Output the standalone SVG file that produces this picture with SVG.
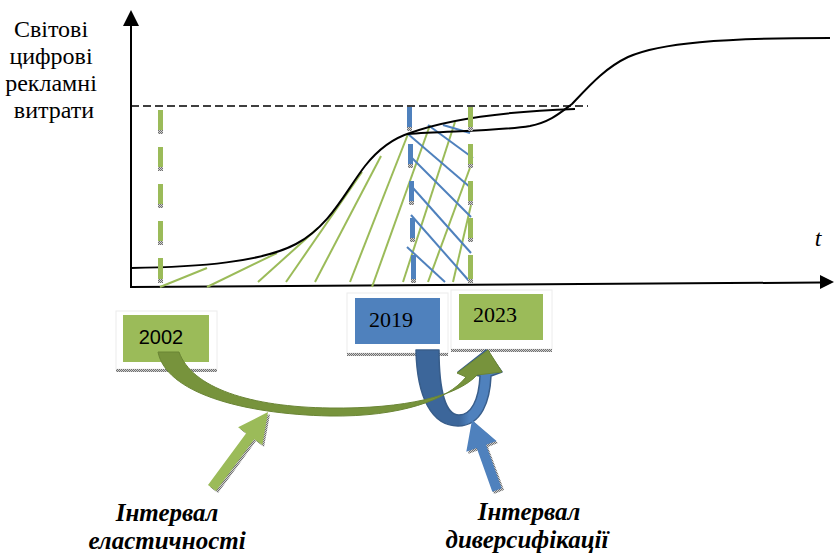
<svg xmlns="http://www.w3.org/2000/svg" width="834" height="556" viewBox="0 0 834 556">
  <defs>
    <pattern id="dots" width="2" height="2" patternUnits="userSpaceOnUse">
      <rect width="2" height="2" fill="#d0d0d0"/>
      <rect width="1" height="1" fill="#707070"/>
      <rect x="1" y="1" width="1" height="1" fill="#707070"/>
    </pattern>
    <linearGradient id="uturn" x1="416" y1="0" x2="502" y2="0" gradientUnits="userSpaceOnUse">
      <stop offset="0" stop-color="#3c669a"/>
      <stop offset="0.5" stop-color="#3c669a"/>
      <stop offset="0.62" stop-color="#4f81bd"/>
      <stop offset="1" stop-color="#4f81bd"/>
    </linearGradient>
    <style>
      .axis { stroke: #000; stroke-width: 2; fill: none; }
      .curve { stroke: #000; stroke-width: 2; fill: none; }
      .limit { stroke: #000; stroke-width: 1.6; fill: none; stroke-dasharray: 8 4; }
      .hg { stroke: #9bbb59; stroke-width: 2; }
      .hb { stroke: #4f81bd; stroke-width: 2; }
      .dg { fill: #9bbb59; }
      .db { fill: #4f81bd; }
      .tip { fill: url(#dots); }
      .frame { fill: #fff; stroke: #ececec; stroke-width: 1; }
      .shadow { fill: url(#dots); }
    </style>
  </defs>

  <rect width="834" height="556" fill="#fff"/>

  <!-- axes -->
  <g id="axes">
    <line class="axis" x1="131" y1="26" x2="131" y2="288"/>
    <polygon points="131,10 123,26 139,26" fill="#000"/>
    <line class="axis" x1="131" y1="287" x2="821" y2="282.5"/>
    <polygon points="834,282 820,275 820,289" fill="#000"/>
    <text font-family="'Liberation Serif', 'Times New Roman', serif" font-size="24" text-anchor="middle" fill="#000">
      <tspan x="54" y="37">Світові</tspan>
      <tspan x="54" y="64">цифрові</tspan>
      <tspan x="54" y="91">рекламні</tspan>
      <tspan x="54" y="118">витрати</tspan>
    </text>
    <text x="818" y="246" font-family="'Liberation Serif', 'Times New Roman', serif" font-size="24" font-style="italic" text-anchor="middle" fill="#000">t</text>
  </g>

  <!-- saturation level -->
  <line class="limit" x1="131" y1="106" x2="588" y2="106"/>

  <!-- hatching of the elasticity interval -->
  <g id="hatch-green">
    <line class="hg" x1="160" y1="287" x2="207" y2="268"/>
    <line class="hg" x1="207" y1="287" x2="277" y2="253"/>
    <line class="hg" x1="258" y1="282" x2="318" y2="228"/>
    <line class="hg" x1="286" y1="282" x2="362" y2="172"/>
    <line class="hg" x1="315" y1="282" x2="381" y2="156"/>
    <line class="hg" x1="350" y1="282" x2="408" y2="134"/>
    <line class="hg" x1="372" y1="287" x2="430" y2="125"/>
    <line class="hg" x1="403" y1="282" x2="455" y2="122"/>
    <line class="hg" x1="428" y1="282" x2="471" y2="165"/>
    <line class="hg" x1="453" y1="282" x2="471" y2="205"/>
  </g>

  <!-- hatching of the diversification interval -->
  <g id="hatch-blue">
    <line class="hb" x1="443" y1="125" x2="470" y2="133"/>
    <line class="hb" x1="428" y1="125" x2="473" y2="158"/>
    <line class="hb" x1="408" y1="134" x2="471" y2="188"/>
    <line class="hb" x1="412" y1="158" x2="471" y2="217"/>
    <line class="hb" x1="413" y1="188" x2="471" y2="253"/>
    <line class="hb" x1="411" y1="215" x2="470" y2="282"/>
    <line class="hb" x1="407" y1="247" x2="445" y2="282"/>
  </g>

  <!-- growth curves -->
  <g id="curves">
    <path class="curve" d="M131,268 C200,267 262,262 296,244 C330,226 345,192 365,166 C380,147 394,138 410,133 C440,122 490,112 575,109"/>
    <path class="curve" d="M407,134 C450,131 500,131 530,126 C550,122 560,113 572,104 C590,85 605,68 628,57 C660,43 720,38 830,38"/>
  </g>

  <!-- interval boundaries -->
  <g id="bound-2002">
    <rect class="dg" x="158" y="110" width="5" height="20"/><rect class="tip" x="158" y="130" width="5" height="4"/>
    <rect class="dg" x="158" y="147" width="5" height="20"/><rect class="tip" x="158" y="167" width="5" height="4"/>
    <rect class="dg" x="158" y="184" width="5" height="20"/><rect class="tip" x="158" y="204" width="5" height="4"/>
    <rect class="dg" x="158" y="221" width="5" height="20"/><rect class="tip" x="158" y="241" width="5" height="4"/>
    <rect class="dg" x="158" y="258" width="5" height="21"/><rect class="tip" x="158" y="279" width="5" height="4"/>
  </g>
  <g id="bound-2019">
    <rect class="db" x="407" y="107" width="5" height="20"/><rect class="tip" x="407" y="127" width="5" height="4"/>
    <rect class="db" x="408" y="144" width="5" height="20"/><rect class="tip" x="408" y="164" width="5" height="4"/>
    <rect class="db" x="409" y="181" width="5" height="20"/><rect class="tip" x="409" y="201" width="5" height="4"/>
    <rect class="db" x="410" y="218" width="5" height="20"/><rect class="tip" x="410" y="238" width="5" height="4"/>
    <rect class="db" x="411" y="255" width="5" height="24"/><rect class="tip" x="411" y="279" width="5" height="4"/>
  </g>
  <g id="bound-2023">
    <rect class="dg" x="468" y="107" width="5" height="20"/><rect class="tip" x="468" y="127" width="5" height="4"/>
    <rect class="dg" x="468" y="144" width="5" height="20"/><rect class="tip" x="468" y="164" width="5" height="4"/>
    <rect class="dg" x="468" y="181" width="5" height="20"/><rect class="tip" x="468" y="201" width="5" height="4"/>
    <rect class="dg" x="468" y="218" width="5" height="20"/><rect class="tip" x="468" y="238" width="5" height="4"/>
    <rect class="dg" x="468" y="255" width="5" height="24"/><rect class="tip" x="468" y="279" width="5" height="4"/>
  </g>

  <!-- year boxes -->
  <g id="year-2002">
    <rect class="frame" x="116" y="311" width="101" height="58"/>
    <rect class="shadow" x="116" y="369" width="101" height="3"/>
    <rect x="123" y="315" width="86" height="47" fill="#9bbb59"/>
    <text x="161" y="344" font-family="'Liberation Sans', Arial, sans-serif" font-size="20" text-anchor="middle" fill="#000">2002</text>
  </g>
  <g id="year-2019">
    <rect class="frame" x="347" y="293" width="101" height="60"/>
    <rect class="shadow" x="347" y="353" width="101" height="3"/>
    <rect x="355" y="298" width="85" height="46" fill="#4f81bd"/>
    <text x="391" y="327" font-family="'Liberation Serif', 'Times New Roman', serif" font-size="22" text-anchor="middle" fill="#000">2019</text>
  </g>
  <g id="year-2023">
    <rect class="frame" x="451" y="290" width="101" height="59"/>
    <rect class="shadow" x="451" y="349" width="101" height="3"/>
    <rect x="459" y="294" width="84" height="46" fill="#9bbb59"/>
    <text x="495" y="322" font-family="'Liberation Serif', 'Times New Roman', serif" font-size="22" text-anchor="middle" fill="#000">2023</text>
  </g>

  <!-- connectors -->
  <g id="connectors">
    <!-- diversification: 2019 to 2023 -->
    <path d="M416,350 C417,398 432,426 458,426 C482,426 490,400 491,376 L502,372 L486,350 L458,372 L480,376 C479,400 471,415 459,415 C446,415 439,392 439,350 Z" fill="url(#uturn)" stroke="#385d8a" stroke-width="1.5" stroke-linejoin="round"/>
    <!-- elasticity: 2002 to 2023 -->
    <path d="M158,352 C166,392 240,414 330,416 C400,417 448,400 466,377 L457,373 L488,350 L502,372 L477,375 C458,396 405,409 330,408 C250,407 192,388 179,352 Z" fill="#77933c" stroke="#6a8535" stroke-width="1" stroke-linejoin="round"/>
    <!-- pointers to the captions -->
    <polygon points="210,487 248,435 240,429 270,414 264,447 256,441 218,493" fill="url(#dots)"/>
    <polygon points="208,485 246.2,433.2 238.1,427.3 268,412 262.3,445.1 254.2,439.2 216,491" fill="#9bbb59"/>
    <polygon points="494,494 479,450 468,454 474,422 498,443 488,447 504,490" fill="url(#dots)"/>
    <polygon points="492.3,491.7 476.7,448.1 466.3,451.8 472,420 496.5,441 486.1,444.7 501.7,488.3" fill="#4f81bd"/>
  </g>

  <!-- captions -->
  <g id="cap-elasticity" font-family="'Liberation Serif', 'Times New Roman', serif" font-size="25" font-weight="bold" font-style="italic" text-anchor="middle" fill="#000">
    <text x="167" y="521">Інтервал</text>
    <text x="167" y="549">еластичності</text>
  </g>
  <g id="cap-diversification" font-family="'Liberation Serif', 'Times New Roman', serif" font-size="25" font-weight="bold" font-style="italic" text-anchor="middle" fill="#000">
    <text x="529" y="520">Інтервал</text>
    <text x="527" y="548">диверсифікації</text>
  </g>
</svg>
